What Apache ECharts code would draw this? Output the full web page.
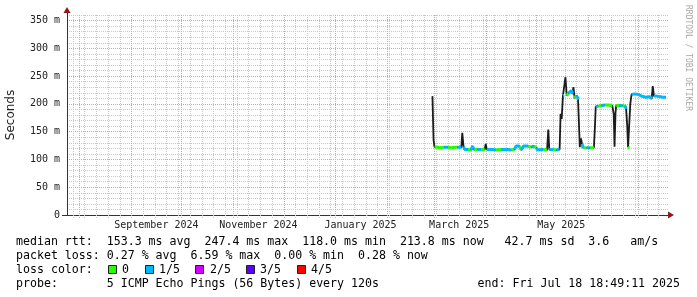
<!DOCTYPE html>
<html><head><meta charset="utf-8">
<script src="https://cdn.jsdelivr.net/npm/echarts@6/dist/echarts.min.js"></script>
<style>html,body{margin:0;padding:0;background:#fff}#c{width:697px;height:297px}</style>
</head><body><div id="c"></div>
<script>
// ---- data ----
const times = [
 "2025-02-28T00","2025-02-28T16","2025-03-01T06","2025-03-03T00","2025-03-05T00","2025-03-07T00","2025-03-09T00","2025-03-11T00","2025-03-13T00","2025-03-15T00",
 "2025-03-17T06","2025-03-17T20","2025-03-18T14","2025-03-19T06","2025-03-21T00","2025-03-23T00","2025-03-24T00","2025-03-24T16","2025-03-27T00","2025-03-29T00",
 "2025-03-31T06","2025-03-31T20","2025-04-01T12","2025-04-04T00","2025-04-07T00","2025-04-10T00","2025-04-13T00","2025-04-16T00","2025-04-18T00","2025-04-19T00",
 "2025-04-21T00","2025-04-22T00","2025-04-23T12","2025-04-26T00","2025-04-28T00","2025-04-29T12","2025-05-01T00","2025-05-02T00","2025-05-05T00","2025-05-07T12",
 "2025-05-08T06","2025-05-08T20","2025-05-11T00","2025-05-13T00","2025-05-15T00","2025-05-15T14","2025-05-16T06","2025-05-17T00","2025-05-17T16","2025-05-18T12",
 "2025-05-19T06","2025-05-20T06","2025-05-21T06","2025-05-22T00","2025-05-22T18","2025-05-23T06","2025-05-24T00","2025-05-25T00","2025-05-26T00","2025-05-26T14",
 "2025-05-27T02","2025-05-27T18","2025-05-28T10","2025-05-29T00","2025-05-31T00","2025-06-02T00","2025-06-04T12","2025-06-05T04","2025-06-05T14","2025-06-07T00",
 "2025-06-09T00","2025-06-11T00","2025-06-13T00","2025-06-15T12","2025-06-16T08","2025-06-16T20","2025-06-17T10","2025-06-17T20","2025-06-19T12","2025-06-21T12",
 "2025-06-23T06","2025-06-23T18","2025-06-24T10","2025-06-24T22","2025-06-25T18","2025-06-26T06","2025-06-27T00","2025-06-29T00","2025-07-01T00","2025-07-03T00",
 "2025-07-05T12","2025-07-08T00","2025-07-09T00","2025-07-09T16","2025-07-10T10","2025-07-12T00","2025-07-14T00","2025-07-16T00","2025-07-17T12"
];
const medianMs = [
 214,135,122,122,121,122,122,121,122,122,
 122,148,123,118,118,117,124,118,118,118,
 118,128,118,118,117,118,118,117,118,124,
 124,117,124,124,122,124,121,117,118,117,
 154,118,118,117,118,182,173,215,216,248,
 215,219,216,224,218,230,210,215,210,209,
 122,138,128,121,121,121,121,162,195,196,
 197,198,198,197,182,123,184,197,197,197,
 196,191,160,122,121,200,217,218,217,214,
 212,213,209,232,214,214,213,212,212
];
const lossFifths = [
 1,0,0,0,0,1,0,0,0,1,
 0,1,1,1,0,1,1,0,1,0,
 1,0,1,1,0,1,1,0,1,1,
 0,1,1,0,1,0,1,1,0,1,
 0,1,0,1,0,1,0,1,0,1,
 0,1,1,1,1,0,0,1,1,1,
 1,0,1,0,1,0,0,0,1,0,
 1,0,0,1,0,1,0,0,1,0,
 1,1,0,0,0,1,1,1,1,1,
 1,1,1,1,1,1,1,1,1
];
const lossNames = ["0","1/5","2/5","3/5","4/5"];
const lossColors = ["#26ff00","#00b8ff","#d400ff","#5a00ff","#ff0000"];
const yTickValues = [0,50,100,150,200,250,300,350];
const xLabelMonths = ["2024-09","2024-11","2025-01","2025-03","2025-05"];
const xLabelTexts = ["September 2024","November 2024","January 2025","March 2025","May 2025"];
const statLines = [
 "median rtt:  153.3 ms avg  247.4 ms max  118.0 ms min  213.8 ms now   42.7 ms sd  3.6   am/s",
 "packet loss: 0.27 % avg  6.59 % max  0.00 % min  0.28 % now",
 "loss color:",
 "probe:       5 ICMP Echo Pings (56 Bytes) every 120s"
];
const endText = "end: Fri Jul 18 18:49:11 2025";
const watermark = "RRDTOOL / TOBI OETIKER";

// ---- build ----
const DAY = 86400000;
const ts = s => Date.parse(s + ":00:00Z");
const xMin = Date.UTC(2024,6,24,14,0,0);
const xMax = Date.UTC(2025,6,18,18,49,11);

const medianData = times.map((t,i)=>[ts(t), medianMs[i]]);

function lossSeriesData(level){
  const out=[]; let lastIdx=-2;
  for(let i=0;i<times.length-1;i++){
    if(lossFifths[i]!==level) continue;
    if(Math.abs(medianMs[i+1]-medianMs[i])>8) continue;
    if(lastIdx!==i){ if(out.length) out.push([ts(times[i]), null]); out.push(medianData[i]); }
    out.push(medianData[i+1]); lastIdx=i+1;
  }
  return out;
}

// vertical grid positions: weekly (Sunday) and monthly
const weekVals=[], monthVals=[];
{
  let d = new Date(xMin); d.setUTCHours(0,0,0,0);
  while(d.getUTCDay()!==0) d = new Date(d.getTime()+DAY);
  for(let t=d.getTime(); t<=xMax; t+=7*DAY) weekVals.push(t);
  for(let y=2024, mo=7; Date.UTC(y,mo,1)<=xMax; ){ monthVals.push(Date.UTC(y,mo,1)); mo++; if(mo>11){mo=0;y++;} }
}
const xLabelValues = xLabelMonths.map(s=>{const [y,mo]=s.split("-").map(Number); return Date.UTC(y,mo-1,1)+15*DAY;});

const MONO = "DejaVu Sans Mono";
const gridGray = "#c8c8c8", gridRed = "#ea9a9a";
const LEG_FONT = '11.6px "DejaVu Sans Mono"';

function vGridItem(params, api){
  const p = api.coord([api.value(0), 0]);
  const cs = params.coordSys;
  const x = Math.round(p[0]) + 0.5;
  const isMonth = api.value(1) === 1;
  return {type:'line', shape:{x1:x, y1:cs.y, x2:x, y2:cs.y+cs.height+3},
    z2: isMonth ? 10 : 1,
    style:{stroke: isMonth ? gridRed : gridGray, lineWidth:1, lineDash:[1,1], fill:null}};
}
const gridData = weekVals.map(t=>[t,0]).concat(monthVals.map(t=>[t,1]));

const series = [
  {type:'custom', name:'grid', silent:true, z:1, data:gridData, encode:{x:0}, renderItem:vGridItem, clip:false},
  {type:'line', name:'median', data:medianData, showSymbol:false, z:3, lineStyle:{color:'#1c1c1c', width:1.8}}
];
lossNames.forEach((n,k)=>{
  series.push({type:'line', name:n, data:lossSeriesData(k), showSymbol:false, connectNulls:false, z:4,
    lineStyle:{color:lossColors[k], width:3}});
});

// graphics: arrows, legend text, watermark
const graphic = [
  {type:'line', shape:{x1:62, y1:215.5, x2:67, y2:215.5}, style:{stroke:'#333', lineWidth:1}},
  {type:'line', shape:{x1:67.5, y1:10, x2:67.5, y2:15}, style:{stroke:'#333', lineWidth:1}},
  {type:'polygon', shape:{points:[[63.5,13],[70.5,13],[67,7]]}, style:{fill:'#8b1a1a'}},
  {type:'polygon', shape:{points:[[668,211.5],[668,218.5],[674,215]]}, style:{fill:'#8b1a1a'}},
  {type:'text', x:688, y:5, rotation:-Math.PI/2, style:{text:watermark, font:'8px "DejaVu Sans Mono"', fill:'#a8a8a8', align:'left', verticalAlign:'middle'}}
];
const rowY = [241.5,255.5,269.5,283.5];
statLines.forEach((s,i)=>graphic.push({type:'text', x:16, y:rowY[i], style:{text:s, font:LEG_FONT, fill:'#000', verticalAlign:'middle', align:'left'}}));
graphic.push({type:'text', x:680, y:rowY[3], style:{text:endText, font:LEG_FONT, fill:'#000', verticalAlign:'middle', align:'right'}});
const sqX = [108,145,195,246,297], lblX = [122,159,210,260,311];
lossNames.forEach((n,k)=>{
  graphic.push({type:'rect', shape:{x:sqX[k]+0.5, y:265.5, width:8, height:8}, style:{fill:lossColors[k], stroke:'#222', lineWidth:1}});
  graphic.push({type:'text', x:lblX[k], y:rowY[2], style:{text:n, font:LEG_FONT, fill:'#000', verticalAlign:'middle', align:'left'}});
});

const option = {
  animation:false,
  backgroundColor:'#ffffff',
  grid:{left:67, right:29, top:15, bottom:82, containLabel:false, outerBoundsMode:'none'},
  xAxis:[{type:'value', min:xMin, max:xMax,
    axisLine:{show:true, onZero:false, lineStyle:{color:'#333', width:1}},
    axisTick:{show:false}, splitLine:{show:false},
    axisLabel:{customValues:xLabelValues, formatter:v=>{const i=xLabelValues.indexOf(v); return i>=0?xLabelTexts[i]:'';},
      fontFamily:MONO, fontSize:10, color:'#222', margin:5}
  }],
  yAxis:[
    {type:'value', min:0, max:360, interval:10,
      axisLine:{show:true, lineStyle:{color:'#333', width:1}}, axisTick:{show:false}, axisLabel:{show:false},
      splitLine:{show:true, showMinLine:false, showMaxLine:true, lineStyle:{color:gridGray, type:[1,1], width:1}}},
    {type:'value', min:0, max:360, interval:50, position:'left',
      axisLine:{show:false}, axisTick:{show:false},
      axisLabel:{showMaxLabel:false, formatter:v=>v===0?'0':(v+' m'), fontFamily:MONO, fontSize:10, color:'#222', margin:7},
      splitLine:{show:true, showMinLine:false, showMaxLine:false, lineStyle:{color:gridRed, type:[1,1], width:1}},
      name:'Seconds', nameLocation:'middle', nameGap:50, nameTextStyle:{fontFamily:'DejaVu Sans', fontSize:12, color:'#222'}}
  ],
  series: series,
  graphic: graphic
};
const chart = echarts.init(document.getElementById('c'), null, {renderer:'canvas'});
chart.setOption(option);
</script>
</body></html>
